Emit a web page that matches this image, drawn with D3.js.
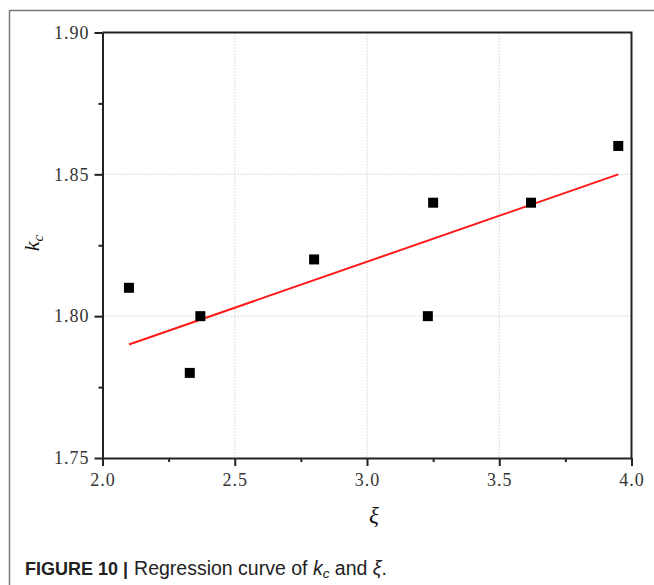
<!DOCTYPE html>
<html><head><meta charset="utf-8">
<script src="https://cdn.jsdelivr.net/npm/d3@7"></script>
<style>body{margin:0;background:#fff}svg{display:block}</style>
</head><body>
<script>
const xVals = [2.10, 2.33, 2.37, 2.80, 3.23, 3.25, 3.62, 3.95];
const yVals = [1.81, 1.78, 1.80, 1.82, 1.80, 1.84, 1.84, 1.86];
const fitX = [2.10, 3.95];
const fitY = [1.790, 1.850];
const xTicks = [2.0, 2.5, 3.0, 3.5, 4.0];
const yTicks = [1.75, 1.80, 1.85, 1.90];
const xDomain = [2.0, 4.0];
const yDomain = [1.75, 1.90];

const W = 654, H = 585;
const m = {l: 102.5, r: 631.5, t: 32.5, b: 458};
const svg = d3.select("body").append("svg").attr("width", W).attr("height", H);

// outer frame
svg.append("path").attr("d", `M9.5,${H} V10.5 H${W}`).attr("fill","none").attr("stroke","#777").attr("stroke-width",1.5);

const x = d3.scaleLinear().domain(xDomain).range([m.l, m.r]);
const y = d3.scaleLinear().domain(yDomain).range([m.b, m.t]);

// grid
const g = svg.append("g");
g.selectAll(".gx").data(xTicks.slice(1,-1)).join("line")
  .attr("x1", d=>x(d)).attr("x2", d=>x(d)).attr("y1", m.t).attr("y2", m.b)
  .attr("stroke","#bbb").attr("stroke-width",1).attr("stroke-dasharray","1,2");
g.selectAll(".gy").data(yTicks.slice(1,-1)).join("line")
  .attr("y1", d=>y(d)).attr("y2", d=>y(d)).attr("x1", m.l).attr("x2", m.r)
  .attr("stroke","#bbb").attr("stroke-width",1).attr("stroke-dasharray","1,2");

const fmtX = d => d3.format(".1f")(d);
const fmtY = d => d3.format(".2f")(d);

// x axis
svg.append("g").attr("transform", `translate(0,${m.b})`)
  .call(d3.axisBottom(x).tickValues(xTicks).tickFormat(fmtX).tickSize(8).tickSizeOuter(0).tickPadding(7));
const xMinor = svg.append("g").attr("transform", `translate(0,${m.b})`)
  .call(d3.axisBottom(x).tickValues(d3.range(2.25, 4, 0.5)).tickFormat("").tickSize(4).tickSizeOuter(0));
xMinor.select(".domain").remove();

// y axis
svg.append("g").attr("transform", `translate(${m.l},0)`)
  .call(d3.axisLeft(y).tickValues(yTicks).tickFormat(fmtY).tickSize(8).tickSizeOuter(0).tickPadding(5));
const yMinor = svg.append("g").attr("transform", `translate(${m.l},0)`)
  .call(d3.axisLeft(y).tickValues(d3.range(1.775, 1.9, 0.05)).tickFormat("").tickSize(4).tickSizeOuter(0));
yMinor.select(".domain").remove();

svg.selectAll(".domain").attr("stroke","#222").attr("stroke-width",2);
svg.selectAll(".tick line").attr("stroke","#222").attr("stroke-width",2);
svg.selectAll(".tick text").attr("font-family","'Liberation Serif', 'DejaVu Serif', serif")
  .attr("font-size",18).attr("fill","#333").style("letter-spacing","1px");

// top & right frame
svg.append("path").attr("d", `M${m.l},${m.t} H${m.r} V${m.b}`).attr("fill","none").attr("stroke","#222").attr("stroke-width",2);

// fit line
const line = d3.line().x(d=>x(d[0])).y(d=>y(d[1]));
svg.append("path").datum(d3.zip(fitX, fitY)).attr("d", line)
  .attr("fill","none").attr("stroke","#ff1a1a").attr("stroke-width",2);

// points
const s = 10;
svg.selectAll(".pt").data(d3.zip(xVals, yVals)).join("rect")
  .attr("x", d=>x(d[0])-s/2).attr("y", d=>y(d[1])-s/2).attr("width", s).attr("height", s).attr("fill","#000");

// axis labels
const yl = svg.append("text").attr("transform","translate(39,243) rotate(-90)")
  .attr("text-anchor","middle").attr("font-family","'Liberation Serif', serif").attr("font-size",22).attr("fill","#111");
yl.append("tspan").attr("font-style","italic").text("k");
yl.append("tspan").attr("font-style","italic").attr("font-size",15).attr("dy",4).text("c");

svg.append("text").attr("x", 374).attr("y", 523).attr("text-anchor","middle")
  .attr("font-family","'Liberation Serif', serif").attr("font-style","italic").attr("font-size",23).attr("fill","#111").text("ξ");

// caption
const cap = svg.append("text").attr("x", 25).attr("y", 575)
  .attr("font-family","'Liberation Sans', Arial, sans-serif").attr("font-size",19.5).attr("fill","#222");
cap.append("tspan").attr("font-weight","bold").attr("font-size",18).text("FIGURE 10 | ");
cap.append("tspan").attr("dx",1).text("Regression curve of ");
cap.append("tspan").attr("font-style","italic").text("k");
cap.append("tspan").attr("font-style","italic").attr("font-size",13.5).attr("dy",3).text("c");
cap.append("tspan").attr("dy",-3).text(" and ");
cap.append("tspan").attr("font-style","italic").text("ξ");
cap.append("tspan").text(".");
</script>
</body></html>
